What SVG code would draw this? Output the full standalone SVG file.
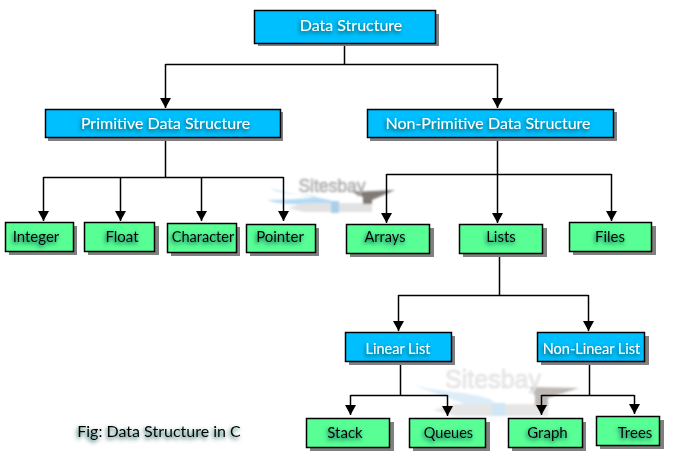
<svg xmlns="http://www.w3.org/2000/svg" width="681" height="458" viewBox="0 0 681 458">
<style>
text{font-family:Lato,"Open Sans","Liberation Sans",sans-serif;text-anchor:middle}
.s{fill:#808080}
.b{fill:#00bfff;stroke:#000;stroke-width:1.5}
.g{fill:#57ff95;stroke:#000;stroke-width:1.5}
.bt{fill:#fff;font-size:16px;filter:url(#ds)}
.gt{fill:#000;font-size:15px;filter:url(#ds)}
.n{font-size:14.500px}
.c{fill:none;stroke:#000;stroke-width:1.5}
.wm{font-family:"Liberation Sans",sans-serif;fill:#c8c8c8;stroke:#8f8f8f;stroke-width:.5}
</style>
<defs>
<filter id="ds" x="-20%" y="-50%" width="140%" height="220%"><feGaussianBlur in="SourceAlpha" stdDeviation="2.2"/><feOffset dx="-1" dy="2" result="sh"/><feFlood flood-color="#004a44"/><feComposite in2="sh" operator="in"/><feMerge><feMergeNode/><feMergeNode in="SourceGraphic"/></feMerge></filter>
<filter id="bl" x="-10%" y="-30%" width="120%" height="160%"><feGaussianBlur stdDeviation=".9"/></filter>
<marker id="a" markerUnits="userSpaceOnUse" markerWidth="11" markerHeight="12" refX="10" refY="6" orient="auto"><path d="M0 .5L10 6L0 11.500Z" fill="#000"/></marker>
</defs>
<g id="watermark-1" filter="url(#bl)">
<path d="M269 188C285 196 300 193 318 197C302 199 285 200 267 200C280 205 300 205 338 203C322 196 300 197 269 188Z" fill="#b4dbf5"/>
<path d="M288 208L304 203H372V212H304Z" fill="#e2e2e2"/>
<rect x="331" y="201" width="8" height="12" fill="#a8d0ea"/>
<path d="M352 192L395 190L372 200V204H363V197Z" fill="#807a74"/>
<text class="wm" x="332" y="192" font-size="17.500">Sitesbay</text>
</g>
<g id="watermark-2" filter="url(#bl)">
<path d="M409 383C430 392 460 390 490 399C495 402 497 408 497 412H480C470 404 440 396 409 383Z" fill="#dcecf8"/>
<path d="M433 410L456 404H548V416H456Z" fill="#e6e6e6"/>
<rect x="492" y="403" width="13" height="13" fill="#cfe6f4"/>
<path d="M530 387L579 388L548 398V406H535V396Z" fill="#bdb8b4"/>
<text class="wm" x="493" y="388" font-size="25" style="fill:#ececec;stroke:#d4d4d4">Sitesbay</text>
</g>
<g id="connectors">
<path class="c" d="M344.500 44V64.500M165.500 64.500H497.500"/>
<path class="c" d="M165.500 64V108" marker-end="url(#a)"/>
<path class="c" d="M497.500 64V108" marker-end="url(#a)"/>
<path class="c" d="M165.500 138V177.500M43.500 177.500H283.500"/>
<path class="c" d="M43.500 177V221" marker-end="url(#a)"/>
<path class="c" d="M120.500 177V221" marker-end="url(#a)"/>
<path class="c" d="M201.500 177V221" marker-end="url(#a)"/>
<path class="c" d="M283.500 177V221" marker-end="url(#a)"/>
<path class="c" d="M497.500 138V174.500M386.500 174.500H611.500"/>
<path class="c" d="M386.500 174V223" marker-end="url(#a)"/>
<path class="c" d="M497.500 174V223" marker-end="url(#a)"/>
<path class="c" d="M611.500 174V221" marker-end="url(#a)"/>
<path class="c" d="M499.500 254V295.500M398.500 295.500H588.500"/>
<path class="c" d="M398.500 295V331" marker-end="url(#a)"/>
<path class="c" d="M588.500 295V331" marker-end="url(#a)"/>
<path class="c" d="M400.500 362V395.500M350.500 395.500H447.500"/>
<path class="c" d="M350.500 395V415" marker-end="url(#a)"/>
<path class="c" d="M447.500 395V416" marker-end="url(#a)"/>
<path class="c" d="M589.500 362V395.500M541.500 395.500H634.500"/>
<path class="c" d="M541.500 395V415" marker-end="url(#a)"/>
<path class="c" d="M634.500 395V414" marker-end="url(#a)"/>
</g>
<g id="data-structure"><rect class="s" x="258" y="14" width="181" height="32"/><rect class="b" x="254.500" y="10.500" width="181" height="33"/><text class="bt" x="351" y="31">Data Structure</text></g>
<g id="primitive"><rect class="s" x="48" y="112" width="235" height="29"/><rect class="b" x="45.500" y="109.500" width="235" height="28"/><text class="bt" x="165.500" y="129">Primitive Data Structure</text></g>
<g id="non-primitive"><rect class="s" x="370" y="112" width="247" height="29"/><rect class="b" x="367.500" y="109.500" width="246" height="28"/><text class="bt" x="488" y="129">Non-Primitive Data Structure</text></g>
<g id="integer"><rect class="s" x="9" y="226" width="68" height="29"/><rect class="g" x="5.500" y="222.500" width="68" height="29"/><text class="gt" x="36" y="242">Integer</text></g>
<g id="float"><rect class="s" x="88" y="226" width="71" height="29"/><rect class="g" x="84.500" y="222.500" width="70" height="29"/><text class="gt" x="122" y="242">Float</text></g>
<g id="character"><rect class="s" x="171" y="227" width="69" height="29"/><rect class="g" x="167.500" y="223.500" width="69" height="29"/><text class="gt n" x="203" y="242">Character</text></g>
<g id="pointer"><rect class="s" x="250" y="228" width="69" height="28"/><rect class="g" x="246.500" y="224.500" width="69" height="28"/><text class="gt" x="280" y="242">Pointer</text></g>
<g id="arrays"><rect class="s" x="350" y="228" width="84" height="29"/><rect class="g" x="346.500" y="224.500" width="83" height="29"/><text class="gt n" x="385" y="242">Arrays</text></g>
<g id="lists"><rect class="s" x="463" y="228" width="84" height="29"/><rect class="g" x="459.500" y="224.500" width="83" height="29"/><text class="gt" x="501" y="242">Lists</text></g>
<g id="files"><rect class="s" x="573" y="226" width="83" height="29"/><rect class="g" x="569.500" y="222.500" width="82" height="29"/><text class="gt" x="610" y="242">Files</text></g>
<g id="linear-list"><rect class="s" x="349" y="336" width="106" height="29"/><rect class="b" x="345.500" y="332.500" width="106" height="29"/><text class="bt n" x="398" y="354">Linear List</text></g>
<g id="non-linear-list"><rect class="s" x="541" y="336" width="108" height="29"/><rect class="b" x="537.500" y="332.500" width="107" height="29"/><text class="bt n" x="591.500" y="354">Non-Linear List</text></g>
<g id="stack"><rect class="s" x="310" y="422" width="84" height="29"/><rect class="g" x="306.500" y="418.500" width="83" height="29"/><text class="gt" x="345" y="438">Stack</text></g>
<g id="queues"><rect class="s" x="413" y="422" width="77" height="29"/><rect class="g" x="409.500" y="418.500" width="76" height="29"/><text class="gt n" x="448.500" y="438">Queues</text></g>
<g id="graph"><rect class="s" x="512" y="422" width="74" height="29"/><rect class="g" x="508.500" y="418.500" width="74" height="29"/><text class="gt" x="547.500" y="438">Graph</text></g>
<g id="trees"><rect class="s" x="600" y="420" width="64" height="29"/><rect class="g" x="596.500" y="416.500" width="63" height="29"/><text class="gt" x="635" y="438">Trees</text></g>
<text id="caption" x="159" y="437" font-size="16" fill="#000" style="filter:url(#ds)">Fig: Data Structure in C</text>
</svg>
